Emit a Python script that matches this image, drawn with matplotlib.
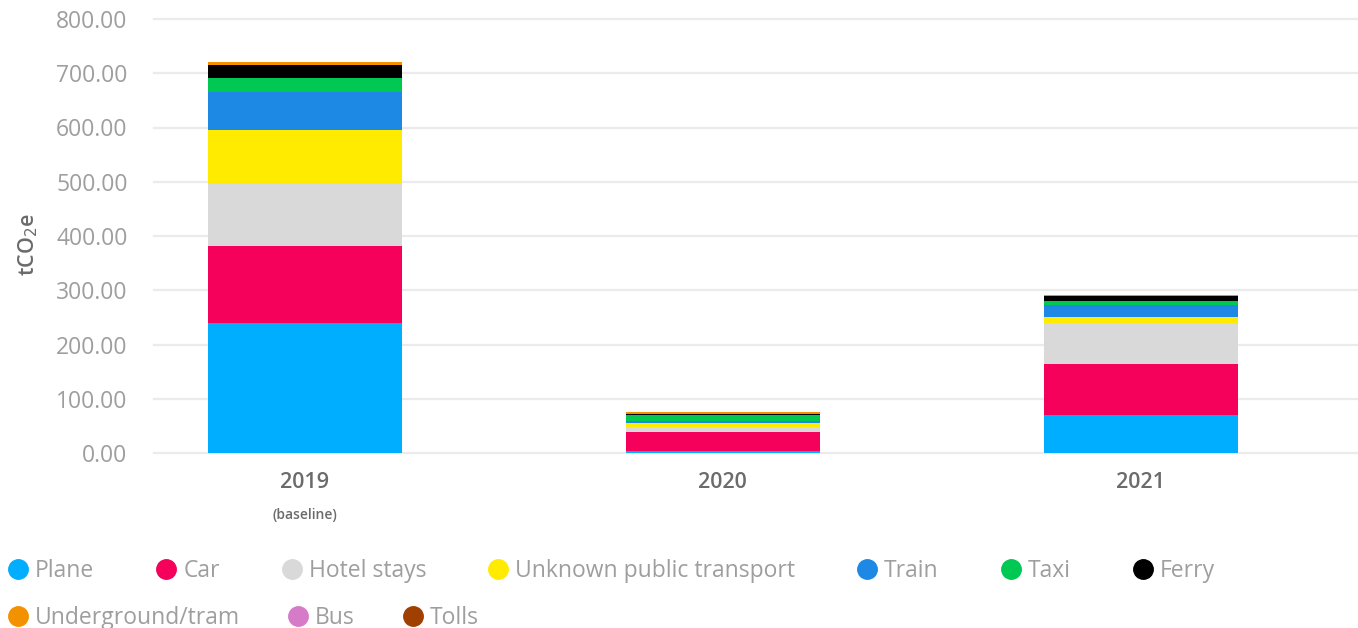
import matplotlib.pyplot as plt
import matplotlib.transforms as mtransforms
import numpy as np

# --- data (tCO2e by travel category) ---
years = ["2019", "2020", "2021"]
categories = ["Plane", "Car", "Hotel stays", "Unknown public transport", "Train",
              "Taxi", "Ferry", "Underground/tram", "Bus", "Tolls"]
plane = [240, 3, 70]
car = [142, 36, 94]
hotel = [114, 8.5, 75]
unknown_pt = [99, 7.5, 11.5]
train = [70, 3.7, 22]
taxi = [26, 11.5, 7.5]
ferry = [24, 1.8, 9.8]
underground = [5.5, 3.5, 1.8]
bus = [0.3, 0.1, 0.1]
tolls = [0.1, 0.1, 0.1]
series = [plane, car, hotel, unknown_pt, train, taxi, ferry, underground, bus, tolls]

COLORS = ["#00AEFF", "#F5005A", "#D9D9D9", "#FFEB00", "#1E88E5",
          "#00C853", "#000000", "#F39200", "#D67BC8", "#A04000"]
GREY = "#9E9E9E"
DARK = "#6B6B6B"
FONT = "Open Sans"

plt.rcParams["font.family"] = FONT

fig = plt.figure(figsize=(13.58, 6.28), dpi=100)
W, H = 1358, 628
ax = fig.add_axes([154 / W, (628 - 453) / H, 1 - 154 / W, (453 - 19) / H])

x = np.arange(len(years))
bottom = np.zeros(len(years))
for vals, col in zip(series, COLORS):
    ax.bar(x, vals, bottom=bottom, width=0.464, color=col, zorder=3)
    bottom += np.array(vals)

ax.set_ylim(0, 800)
ax.set_xlim(-0.361, 2.52)
ax.set_yticks(np.arange(0, 801, 100))
ax.set_yticklabels([f"{v:.2f}" for v in np.arange(0, 801, 100)], color=GREY, fontsize=16.5)
ax.yaxis.grid(True, color="#EBEBEB", linewidth=1.6, zorder=0)
ax.tick_params(axis="y", length=0, pad=19)
ax.tick_params(axis="x", length=0, pad=14)
ax.set_xticks(x)
ax.set_xticklabels(years, color=DARK, fontsize=15.5, fontweight="semibold")
for s in ax.spines.values():
    s.set_visible(False)
for gl in ax.get_ygridlines():
    gl.set_clip_on(False)

trans = mtransforms.blended_transform_factory(ax.transData, fig.transFigure)
ax.text(0, 1 - 515 / H, "(baseline)", transform=trans, ha="center", va="center",
        color=DARK, fontsize=10, fontweight="semibold")

fig.text(28 / W, 1 - 245 / H, r"tCO$_2$e", rotation=90, ha="center", va="center",
         color=DARK, fontsize=15.5, fontweight="semibold")

# legend: flowing layout, two rows
rows = [categories[:7], categories[7:]]
row_y = [569, 616]
gaps = [72, 58]
renderer = fig.canvas.get_renderer()
idx = 0
for names, yy, gap in zip(rows, row_y, gaps):
    px = 18
    for name in names:
        fig.lines.append(plt.Line2D([px / W], [1 - yy / H], marker="o", markersize=14,
                                    color=COLORS[idx], linestyle="none",
                                    transform=fig.transFigure, figure=fig))
        t = fig.text((px + 17) / W, 1 - (yy + 2) / H, name, ha="left", va="center",
                     color=GREY, fontsize=16.5, fontweight="medium")
        bb = t.get_window_extent(renderer=renderer)
        px = bb.x1 + gap
        idx += 1

fig.savefig("out.png", dpi=100)
